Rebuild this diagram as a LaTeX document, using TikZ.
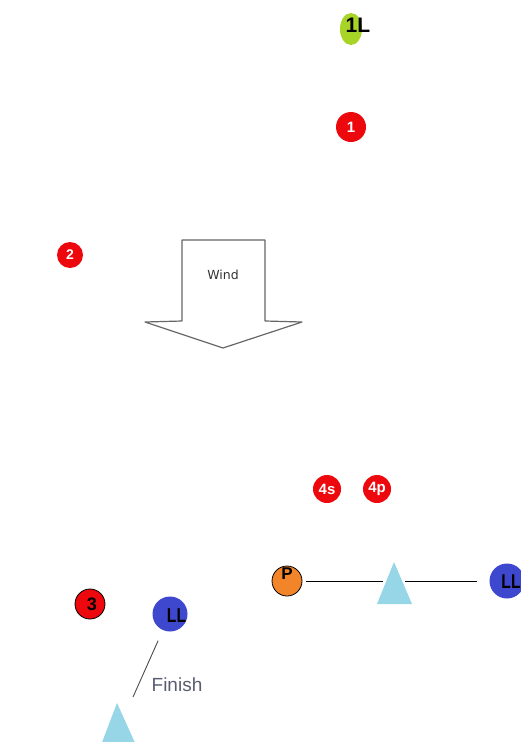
\documentclass[tikz,border=0pt]{standalone}
\usepackage{fontspec}
\setmainfont{Liberation Sans}
\newfontfamily\windfont{DejaVu Sans}
\usetikzlibrary{shapes.geometric}
\definecolor{buoyred}{RGB}{236,8,12}
\definecolor{leadgreen}{RGB}{168,212,40}
\definecolor{pinorange}{RGB}{242,132,42}
\definecolor{llblue}{RGB}{62,72,206}
\definecolor{pinblue}{RGB}{150,214,230}
\definecolor{finishgray}{RGB}{88,92,112}
\newcommand{\fsz}[1]{\fontsize{#1}{#1}\selectfont}
\newcommand{\narrow}[1]{\scalebox{0.78}[1]{#1}}
\tikzset{
  disc/.style={circle, inner sep=0pt, minimum size=#1},
  redbuoy/.style={disc=#1, fill=buoyred, text=white, font=\bfseries\fsz{15}},
  lleg/.style={disc=35pt, fill=llblue},
  tag/.style={font=\bfseries\fsz{20}, inner sep=0pt}
}
\begin{document}
\begin{tikzpicture}[x=1pt,y=-1pt]
\useasboundingbox (0,0) rectangle (520,742);

% marks upwind
\node[ellipse, fill=leadgreen, minimum width=22pt, minimum height=32pt, inner sep=0pt] (oneL) at (351,29) {};
\node[tag, font=\bfseries\fsz{21}] (oneLtxt) at (358,25) {1L};
\node[redbuoy=30pt] (one) at (351,127) {1};
\node[redbuoy=26pt, font=\bfseries\fsz{14}] (two) at (70,255) {2};

% wind
\draw[black!60, line width=1.2pt, line join=round] (182,240) -- (265,240) -- (265,321) -- (302,322)
  -- (223,348) -- (145,322) -- (182,321) -- cycle;
\node[font=\windfont\fsz{12.5}, text=black!80] (wind) at (223,275) {Wind};

% gate
\node[redbuoy=28pt, font=\bfseries\fsz{15}] (fours) at (327,489) {4s};
\node[redbuoy=28pt, font=\bfseries\fsz{15}] (fourp) at (377,489) {4p};

% finish line top right
\node[disc=30pt, fill=pinorange, draw=black, line width=0.8pt] (P) at (287,581) {};
\node[tag, font=\bfseries\fsz{17}] at (287,574) {P};
\coordinate (pinR) at (394,581);
\fill[pinblue] (394,562) -- (412,604) -- (377,604) -- cycle;
\node[lleg] (llR) at (507,581) {};
\node[tag] at (511,582) {\narrow{LL}};
\draw[line width=0.9pt, shorten <=4pt, shorten >=11pt] (P) -- (pinR);
\draw[line width=0.9pt, shorten <=11pt, shorten >=12pt] (pinR) -- (llR);

% finish bottom left
\node[disc=30pt, fill=buoyred, draw=black, line width=0.8pt] (three) at (90,604) {};
\node[tag, font=\bfseries\fsz{18}] at (92,604) {3};
\node[lleg] (llL) at (170,614) {};
\node[tag] at (176.5,615.5) {\narrow{LL}};
\coordinate (finish) at (133,697);
\fill[pinblue] (117,703) -- (136,745) -- (101,745) -- cycle;
\draw[gray!60!black, line width=0.9pt, shorten <=11.5pt] (llL) -- (finish);
\node[font=\fsz{19}, text=finishgray] (finishtxt) at (177,685) {Finish};
\end{tikzpicture}
\end{document}
